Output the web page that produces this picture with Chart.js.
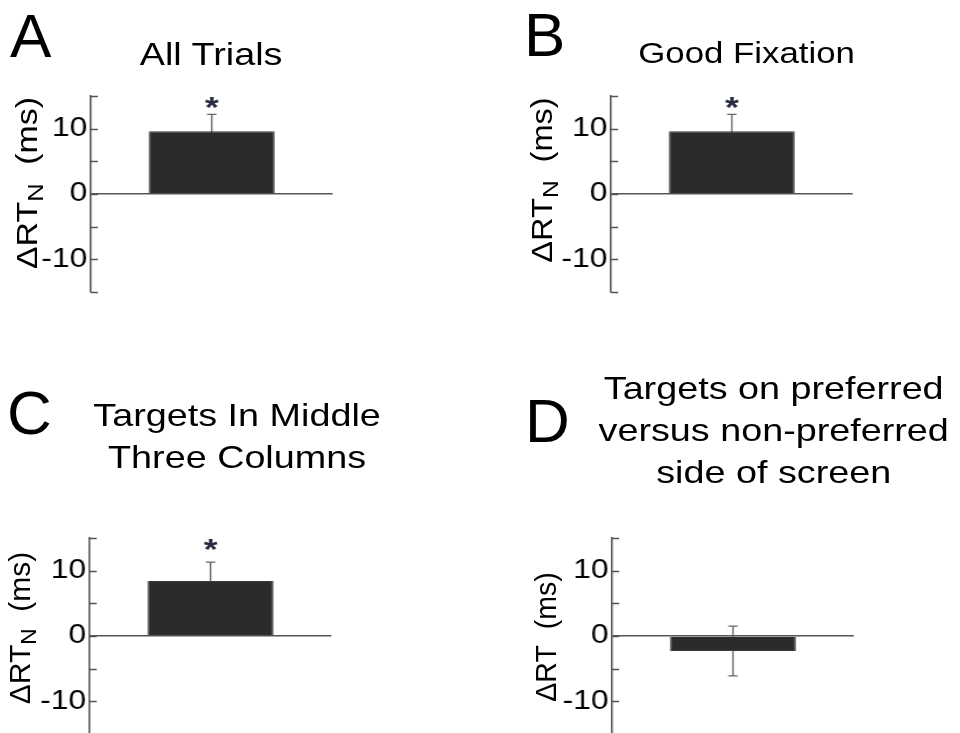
<!DOCTYPE html>
<html>
<head>
<meta charset="utf-8">
<script src="https://cdn.jsdelivr.net/npm/chart.js@4.4.0/dist/chart.umd.min.js"></script>
<style>
  html, body { margin: 0; padding: 0; width: 960px; height: 733px; overflow: hidden; background: #fff; }
  body { font-family: "Liberation Sans", Arial, sans-serif; color: #000; position: relative; }
  /* the source figure is stretched sideways, so the charts and titles sit in a wider box */
  #fig { position: absolute; left: 0; top: 0; width: 814px; height: 733px; transform: scaleX(1.1794); transform-origin: 0 0; }
  #fig canvas { position: absolute; }
  .title { position: absolute; white-space: nowrap; text-align: center; font-size: 32px; line-height: 42px; transform: translateX(-50%); }
  .letter { position: absolute; font-size: 62px; line-height: 62px; }
  .ylab { position: absolute; white-space: nowrap; font-size: 30px; line-height: 34px; }
  .ylab sub { font-size: 75%; vertical-align: -0.25em; line-height: 0; }
</style>
</head>
<body>
<div id="fig"></div>
<script>
// data
const panelLetters = ['A', 'B', 'C', 'D'];
const categories = ['All Trials', 'Good Fixation', 'Targets In Middle Three Columns', 'Targets on preferred versus non-preferred side of screen'];
const titleLines = [
  ['All Trials'],
  ['Good Fixation'],
  ['Targets In Middle', 'Three Columns'],
  ['Targets on preferred', 'versus non-preferred', 'side of screen']
];
const yTitles = ['ΔRT<sub>N</sub>&nbsp;&nbsp;(ms)', 'ΔRT<sub>N</sub>&nbsp;&nbsp;(ms)', 'ΔRT<sub>N</sub>&nbsp;&nbsp;(ms)', 'ΔRT&nbsp;&nbsp;(ms)'];
const means = [9.6, 9.6, 8.4, -2.3];
const errors = [2.6, 2.6, 2.9, 3.8];
const significant = [true, true, true, false];
const yMin = -15, yMax = 15, yStep = 5;
const yTickLabels = [-10, 0, 10];

// layout (x in the stretched box, y in page px)
const chartPos = [
  { left: -3, top: 76 }, { left: 438, top: 76 },
  { left: -4, top: 518 }, { left: 439, top: 518 }
];
const titlePos = [
  { x: 179, top: 33, size: 32 }, { x: 633, top: 32, size: 29.5 },
  { x: 201, top: 394, size: 32 }, { x: 656, top: 367, size: 32 }
];
const letterPos = [
  { left: 10, top: 5 }, { left: 524, top: 4 },
  { left: 7, top: 382 }, { left: 525, top: 390 }
];
const yTitlePos = [
  { x: 27, y: 183, sx: 1.13 }, { x: 542, y: 180, sx: 1.085 },
  { x: 20, y: 628, sx: 1.0 }, { x: 546, y: 637, sx: 0.95 }
];

Chart.defaults.font.family = '"Liberation Sans", Arial, sans-serif';

const errorBars = {
  id: 'errorBars',
  beforeDatasetsDraw(chart, args, opts) {
    const { ctx } = chart;
    const y = chart.scales.y;
    const i = opts.panel;
    chart.getDatasetMeta(0).data.forEach((bar, j) => {
      const v = chart.data.datasets[0].data[j];
      const y1 = y.getPixelForValue(v + errors[i]);
      const y2 = y.getPixelForValue(v - errors[i]);
      ctx.save();
      ctx.strokeStyle = '#666';
      ctx.lineWidth = 1.3;
      ctx.beginPath();
      ctx.moveTo(bar.x, y1); ctx.lineTo(bar.x, y2);
      ctx.moveTo(bar.x - 4, y1); ctx.lineTo(bar.x + 4, y1);
      ctx.moveTo(bar.x - 4, y2); ctx.lineTo(bar.x + 4, y2);
      ctx.stroke();
      ctx.restore();
    });
  },
  afterDatasetsDraw(chart, args, opts) {
    const i = opts.panel;
    if (!significant[i]) return;
    const { ctx } = chart;
    const bar = chart.getDatasetMeta(0).data[0];
    const yc = chart.scales.y.getPixelForValue(14.5);
    ctx.save();
    ctx.fillStyle = '#262a40';
    ctx.font = 'bold 30px "Liberation Sans", Arial, sans-serif';
    ctx.textAlign = 'center';
    ctx.textBaseline = 'alphabetic';
    ctx.fillText('*', bar.x, yc + 0.58 * 30);
    ctx.restore();
  },
  afterDraw(chart) {
    // inward tick marks on the y axis
    const { ctx, chartArea } = chart;
    const y = chart.scales.y;
    ctx.save();
    ctx.strokeStyle = '#555';
    ctx.lineWidth = 1.5;
    ctx.beginPath();
    y.ticks.forEach(t => {
      const py = Math.round(y.getPixelForValue(t.value)) + 0.5;
      ctx.moveTo(chartArea.left, py);
      ctx.lineTo(chartArea.left + 6, py);
    });
    ctx.stroke();
    ctx.restore();
  }
};

const fig = document.getElementById('fig');

panelLetters.forEach((letter, i) => {
  const canvas = document.createElement('canvas');
  canvas.width = 286;
  canvas.height = 236;
  canvas.style.left = chartPos[i].left + 'px';
  canvas.style.top = chartPos[i].top + 'px';
  fig.appendChild(canvas);

  const t = document.createElement('div');
  t.className = 'title';
  t.style.left = titlePos[i].x + 'px';
  t.style.top = titlePos[i].top + 'px';
  t.style.fontSize = titlePos[i].size + 'px';
  t.innerHTML = titleLines[i].join('<br>');
  fig.appendChild(t);

  const l = document.createElement('div');
  l.className = 'letter';
  l.style.left = letterPos[i].left + 'px';
  l.style.top = letterPos[i].top + 'px';
  l.textContent = letter;
  document.body.appendChild(l);

  const yl = document.createElement('div');
  yl.className = 'ylab';
  yl.style.left = yTitlePos[i].x + 'px';
  yl.style.top = yTitlePos[i].y + 'px';
  yl.style.transform = 'translate(-50%, -50%) rotate(-90deg) scaleX(' + yTitlePos[i].sx + ')';
  yl.innerHTML = yTitles[i];
  document.body.appendChild(yl);

  new Chart(canvas, {
    type: 'bar',
    data: {
      labels: [categories[i]],
      datasets: [{
        data: [means[i]],
        backgroundColor: '#2b2b2b',
        borderColor: '#3c3c3c',
        borderWidth: 1,
        barPercentage: 0.52,
        categoryPercentage: 1
      }]
    },
    options: {
      responsive: false,
      animation: false,
      events: [],
      layout: { padding: { left: 0, right: 1, top: 20, bottom: 20 } },
      plugins: {
        legend: { display: false },
        tooltip: { enabled: false },
        errorBars: { panel: i }
      },
      scales: {
        x: { display: false },
        y: {
          min: yMin,
          max: yMax,
          afterFit: s => { s.width = 80; },
          ticks: {
            stepSize: yStep,
            autoSkip: false,
            padding: 3,
            color: '#000',
            font: { size: 27 },
            callback: v => yTickLabels.includes(v) ? String(v) : ''
          },
          grid: {
            drawTicks: false,
            lineWidth: 1.5,
            color: c => (c.tick && c.tick.value === 0) ? '#555' : 'rgba(0,0,0,0)'
          },
          border: { display: true, color: '#555', width: 1.5 }
        }
      }
    },
    plugins: [errorBars]
  });
});
</script>
</body>
</html>
